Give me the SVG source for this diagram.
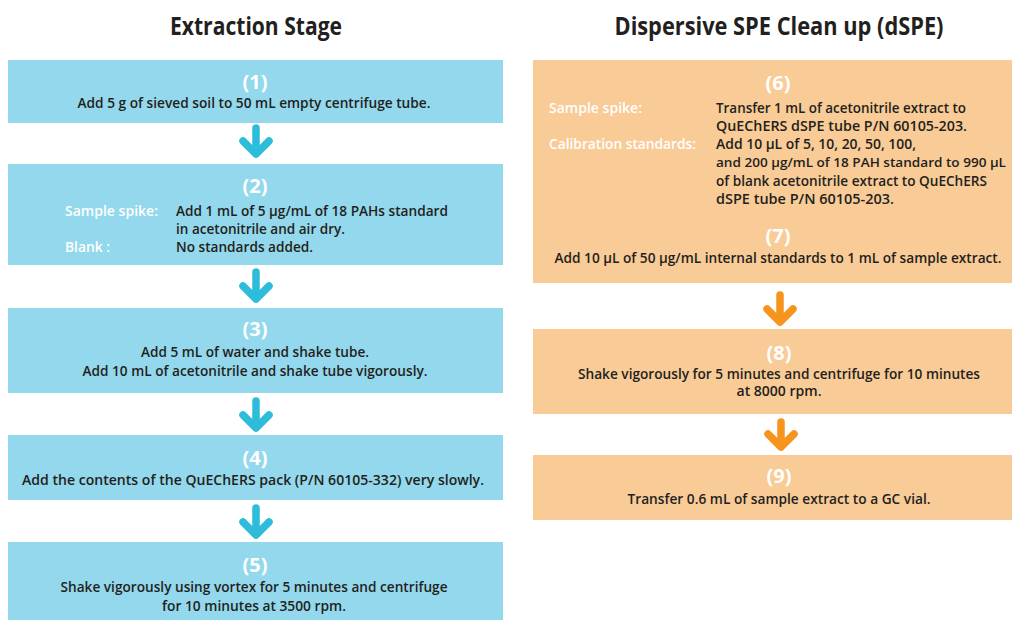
<svg xmlns="http://www.w3.org/2000/svg" width="1012" height="620" viewBox="0 0 1012 620">
<style>
.title{font-family:"Open Sans","Liberation Sans",sans-serif;font-weight:700;font-size:25px;fill:#231f20;text-anchor:middle}
.num{font-family:"Open Sans","Liberation Sans",sans-serif;font-weight:700;font-size:20px;fill:#ffffff;text-anchor:middle}
.t{font-family:"Open Sans","Liberation Sans",sans-serif;font-weight:600;font-size:14px;fill:#231f20}
.c{text-anchor:middle}
.w{fill:#ffffff}
.blue{fill:#93d8ec}
.orange{fill:#f9cb96}
.arB{stroke:#2dbcd9;stroke-width:7.5;fill:none;stroke-linecap:round;stroke-linejoin:round}
.arO{stroke:#f7941d;stroke-width:7.5;fill:none;stroke-linecap:round;stroke-linejoin:round}
</style>
<rect width="1012" height="620" fill="#ffffff"/>
<text class="title" x="256" y="35" textLength="172" lengthAdjust="spacingAndGlyphs">Extraction Stage</text>
<text class="title" x="779" y="35" textLength="329" lengthAdjust="spacingAndGlyphs">Dispersive SPE Clean up (dSPE)</text>

<g id="step1">
<rect class="blue" x="8" y="60" width="495" height="63"/>
<text class="num" x="255" y="89">(1)</text>
<text class="t c" x="254" y="108" textLength="353" lengthAdjust="spacingAndGlyphs">Add 5 g of sieved soil to 50 mL empty centrifuge tube.</text>
</g>
<g id="step2">
<rect class="blue" x="8" y="164" width="495" height="101"/>
<text class="num" x="255" y="193">(2)</text>
<text class="t w" x="65" y="216" textLength="93" lengthAdjust="spacingAndGlyphs">Sample spike:</text>
<text class="t" x="176" y="216" textLength="272" lengthAdjust="spacingAndGlyphs">Add 1 mL of 5 µg/mL of 18 PAHs standard</text>
<text class="t" x="176" y="234" textLength="169" lengthAdjust="spacingAndGlyphs">in acetonitrile and air dry.</text>
<text class="t w" x="65" y="252" textLength="45" lengthAdjust="spacingAndGlyphs">Blank :</text>
<text class="t" x="176" y="252" textLength="137" lengthAdjust="spacingAndGlyphs">No standards added.</text>
</g>
<g id="step3">
<rect class="blue" x="8" y="308" width="495" height="85"/>
<text class="num" x="255" y="336">(3)</text>
<text class="t c" x="255" y="357" textLength="228" lengthAdjust="spacingAndGlyphs">Add 5 mL of water and shake tube.</text>
<text class="t c" x="255" y="376" textLength="345" lengthAdjust="spacingAndGlyphs">Add 10 mL of acetonitrile and shake tube vigorously.</text>
</g>
<g id="step4">
<rect class="blue" x="8" y="435" width="495" height="65"/>
<text class="num" x="255" y="465">(4)</text>
<text class="t c" x="253" y="485" textLength="462" lengthAdjust="spacingAndGlyphs">Add  the contents of the QuEChERS pack (P/N 60105-332) very slowly.</text>
</g>
<g id="step5">
<rect class="blue" x="8" y="542" width="495" height="78"/>
<text class="num" x="255" y="572">(5)</text>
<text class="t c" x="254" y="592" textLength="387" lengthAdjust="spacingAndGlyphs">Shake vigorously using vortex for 5 minutes and centrifuge</text>
<text class="t c" x="254" y="611" textLength="184" lengthAdjust="spacingAndGlyphs">for 10 minutes at 3500 rpm.</text>
</g>

<g id="step6-7">
<rect class="orange" x="533" y="60" width="479" height="223"/>
<text class="num" x="778" y="90">(6)</text>
<text class="t w" x="549" y="113" textLength="93" lengthAdjust="spacingAndGlyphs">Sample spike:</text>
<text class="t" x="716" y="113" textLength="250" lengthAdjust="spacingAndGlyphs">Transfer 1 mL of acetonitrile extract to</text>
<text class="t" x="716" y="131" textLength="251" lengthAdjust="spacingAndGlyphs">QuEChERS dSPE tube P/N 60105-203.</text>
<text class="t w" x="549" y="149" textLength="147" lengthAdjust="spacingAndGlyphs">Calibration standards:</text>
<text class="t" x="716" y="149" textLength="200" lengthAdjust="spacingAndGlyphs">Add 10 µL of 5, 10, 20, 50, 100,</text>
<text class="t" x="716" y="167" font-size="12.5" textLength="290" lengthAdjust="spacingAndGlyphs" style="font-size:12.5px">and 200 µg/mL of 18 PAH standard to 990 µL</text>
<text class="t" x="716" y="186" textLength="271" lengthAdjust="spacingAndGlyphs">of blank acetonitrile extract to QuEChERS</text>
<text class="t" x="716" y="204" textLength="178" lengthAdjust="spacingAndGlyphs">dSPE tube P/N 60105-203.</text>
<text class="num" x="778" y="243">(7)</text>
<text class="t c" x="778" y="263" textLength="447" lengthAdjust="spacingAndGlyphs">Add 10 µL of 50 µg/mL internal standards to 1 mL of sample extract.</text>
</g>
<g id="step8">
<rect class="orange" x="533" y="329" width="479" height="85"/>
<text class="num" x="779" y="360">(8)</text>
<text class="t c" x="779" y="379" textLength="402" lengthAdjust="spacingAndGlyphs">Shake vigorously for 5 minutes and centrifuge for 10 minutes</text>
<text class="t c" x="779" y="396" textLength="85" lengthAdjust="spacingAndGlyphs">at 8000 rpm.</text>
</g>
<g id="step9">
<rect class="orange" x="533" y="455" width="479" height="65"/>
<text class="num" x="779" y="483">(9)</text>
<text class="t c" x="779" y="504" textLength="303" lengthAdjust="spacingAndGlyphs">Transfer 0.6 mL of sample extract  to a GC vial.</text>
</g>

<g id="connectors">
<path class="arB" d="M256,128 V153 M243,141 L256,154 L269,141"/>
<path class="arB" d="M256,272 V298 M243,286 L256,299 L269,286"/>
<path class="arB" d="M256,401 V427 M243,415 L256,428 L269,415"/>
<path class="arB" d="M256,508 V534 M243,522 L256,535 L269,522"/>
<path class="arO" d="M780,295 V321 M767,309 L780,322 L793,309"/>
<path class="arO" d="M781,422 V446 M768,434 L781,447 L794,434"/>
</g>
</svg>
